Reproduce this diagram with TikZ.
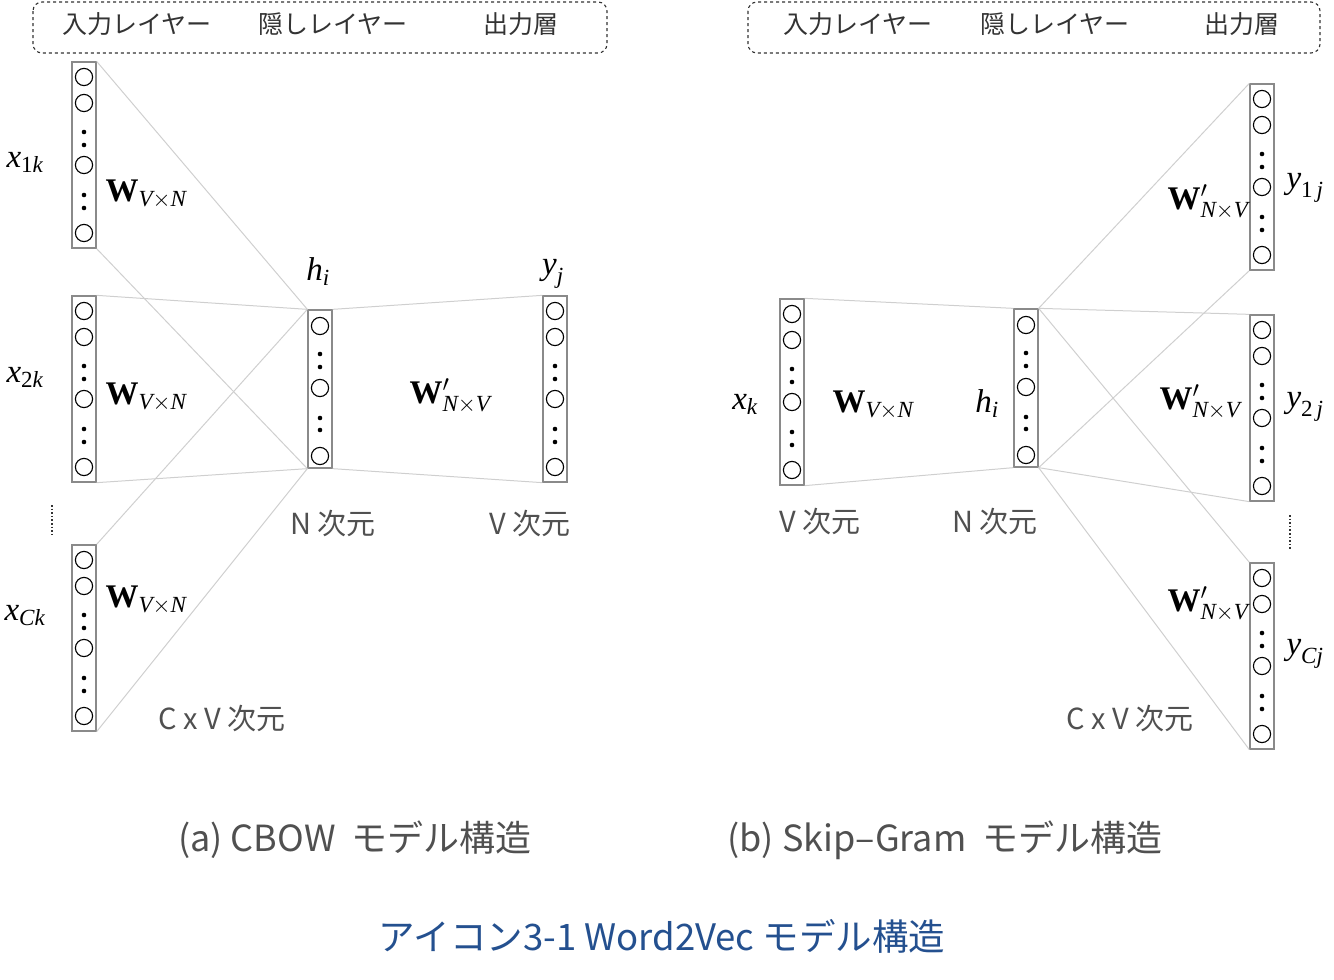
\RequirePackage{fix-cm}
\documentclass[tikz,border=0pt]{standalone}
\usepackage{amsmath}
\usepackage[no-math]{fontspec}
\setmainfont{Noto Sans CJK JP}
\newfontfamily\tms{Liberation Serif}

\definecolor{boxgray}{HTML}{8A8A8A}
\definecolor{wiregray}{HTML}{CFCFCF}
\definecolor{labgray}{HTML}{505050}
\definecolor{hdrgray}{HTML}{333333}
\definecolor{titleblue}{HTML}{24508F}

\newcommand{\bW}{\text{\tms\bfseries W}}
\newcommand{\ti}[1]{\text{\tms\itshape #1}}
\newcommand{\tu}[1]{\text{\tms #1}}

% one layer column: name, x centre, top edge
\newcommand{\layercol}[3]{%
  \node[colbox, minimum height=186pt] (#1) at (#2,#3+93) {};
  \foreach \cy in {15,41,103,171} \draw[unit] (#2,#3+\cy) circle (8.6pt);
  \foreach \dy in {70,83,133,146} \fill (#2,#3+\dy) circle (2.3pt);
}
\newcommand{\hiddencol}[3]{%
  \node[colbox, minimum height=158pt] (#1) at (#2,#3+79) {};
  \foreach \cy in {16,78,146} \draw[unit] (#2,#3+\cy) circle (8.6pt);
  \foreach \dy in {44,57,108,120} \fill (#2,#3+\dy) circle (2.3pt);
}

\begin{document}
\begin{tikzpicture}[
  x=1pt, y=-1pt,
  colbox/.style={draw=boxgray, line width=1.3pt, minimum width=24pt, inner sep=0pt},
  unit/.style={draw=black, line width=1.1pt},
  wire/.style={draw=wiregray, line width=1pt},
  hdrbox/.style={draw=hdrgray, dashed, rounded corners=9pt, line width=1.1pt},
  hdr/.style={text=hdrgray, font=\fontsize{25}{28}\selectfont},
  dim/.style={text=labgray, font=\fontsize{29}{31}\selectfont},
  mlabel/.style={font=\fontsize{33}{35}\selectfont, inner sep=0pt},
  caption/.style={text=labgray, font=\fontsize{36}{39}\selectfont},
  vdots/.style={dotted, line width=1.6pt, draw=hdrgray}
  ]
\useasboundingbox (0,0) rectangle (1334,980);

% ---- (a) CBOW
\draw [hdrbox] (33,2) rectangle (607,53);
\node [hdr] (ain) at (137,24) {入力レイヤー};
\node [hdr] (ahid) at (333,24) {隠しレイヤー};
\node [hdr] (aout) at (521,24) {出力層};

\layercol{ax1}{84}{62}
\layercol{ax2}{84}{296}
\layercol{axc}{84}{545}
\hiddencol{ah}{320}{310}
\layercol{ay}{555}{296}

\draw [wire] (ax1.north east) -- (ah.north west);
\draw [wire] (ax1.south east) -- (ah.south west);
\draw [wire] (ax2.north east) -- (ah.north west);
\draw [wire] (ax2.south east) -- (ah.south west);
\draw [wire] (axc.north east) -- (ah.north west);
\draw [wire] (axc.south east) -- (ah.south west);
\draw [wire] (ah.north east) -- (ay.north west);
\draw [wire] (ah.south east) -- (ay.south west);

\draw [vdots] (52,505) -- (52,536);

\node [mlabel] (lx1) at (25,162) {$\ti{x}_{\tu{1}\ti{k}}$};
\node [mlabel] (lx2) at (25,377) {$\ti{x}_{\tu{2}\ti{k}}$};
\node [mlabel] (lxc) at (25,616) {$\ti{x}_{\ti{Ck}}$};
\node [mlabel] (aw1) at (146,194) {$\bW_{\ti{V}\times\ti{N}}$};
\node [mlabel] (aw2) at (146,397) {$\bW_{\ti{V}\times\ti{N}}$};
\node [mlabel] (aw3) at (146,600) {$\bW_{\ti{V}\times\ti{N}}$};
\node [mlabel] (lah) at (318,272) {$\ti{h}_{\ti{i}}$};
\node [mlabel] (lay) at (553,274) {$\ti{y}_{\ti{j}}$};
\node [mlabel] (awo) at (450,396) {$\bW'_{\ti{N}\times\ti{V}}$};

\node [dim] (adn) at (333,524) {N 次元};
\node [dim] (adv) at (530,524) {V 次元};
\node [dim] (adc) at (222,719) {C x V 次元};

% ---- (b) Skip-Gram
\draw [hdrbox] (748,2) rectangle (1320,53);
\node [hdr] (bin) at (858,24) {入力レイヤー};
\node [hdr] (bhid) at (1055,24) {隠しレイヤー};
\node [hdr] (bout) at (1242,24) {出力層};

\layercol{bx}{792}{299}
\hiddencol{bh}{1026}{309}
\layercol{by1}{1262}{84}
\layercol{by2}{1262}{315}
\layercol{byc}{1262}{563}

\draw [wire] (bx.north east) -- (bh.north west);
\draw [wire] (bx.south east) -- (bh.south west);
\draw [wire] (bh.north east) -- (by1.north west);
\draw [wire] (bh.south east) -- (by1.south west);
\draw [wire] (bh.north east) -- (by2.north west);
\draw [wire] (bh.south east) -- (by2.south west);
\draw [wire] (bh.north east) -- (byc.north west);
\draw [wire] (bh.south east) -- (byc.south west);

\draw [vdots] (1290,515) -- (1290,550);

\node [mlabel] (lbx) at (745,404) {$\ti{x}_{\ti{k}}$};
\node [mlabel] (bwi) at (873,405) {$\bW_{\ti{V}\times\ti{N}}$};
\node [mlabel] (lbh) at (987,404) {$\ti{h}_{\ti{i}}$};
\node [mlabel] (bw1) at (1208,202) {$\bW'_{\ti{N}\times\ti{V}}$};
\node [mlabel] (bw2) at (1200,402) {$\bW'_{\ti{N}\times\ti{V}}$};
\node [mlabel] (bw3) at (1208,604) {$\bW'_{\ti{N}\times\ti{V}}$};
\node [mlabel] (lby1) at (1305,188) {$\ti{y}_{\tu{1}\,\ti{j}}$};
\node [mlabel] (lby2) at (1305,407) {$\ti{y}_{\tu{2}\,\ti{j}}$};
\node [mlabel] (lbyc) at (1305,654) {$\ti{y}_{\ti{Cj}}$};

\node [dim] (bdv) at (820,522) {V 次元};
\node [dim] (bdn) at (995,522) {N 次元};
\node [dim] (bdc) at (1130,719) {C x V 次元};

% ---- captions
\node [caption] (capa) at (355,840) {(a) CBOW\ \ モデル構造};
\node [caption] (capb) at (945,840) {(b) Skip–Gram\ \ モデル構造};
\node [caption, text=titleblue, font=\fontsize{36.5}{39}\selectfont] (title) at (662,936) {アイコン3-1 Word2Vec モデル構造};

\end{tikzpicture}
\end{document}
